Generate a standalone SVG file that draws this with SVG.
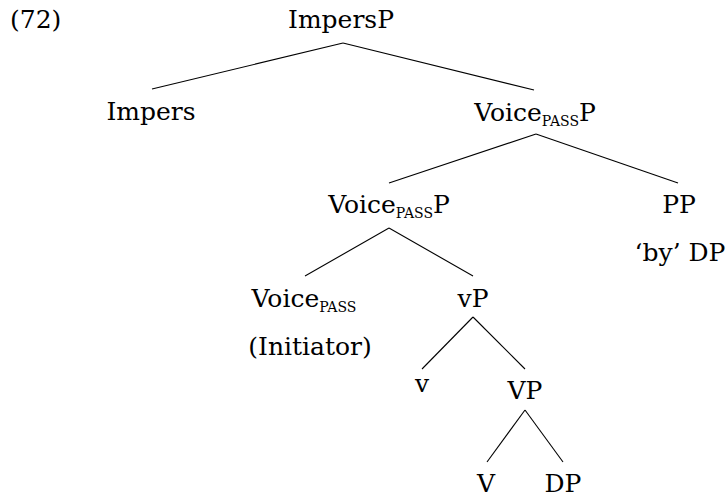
<svg xmlns="http://www.w3.org/2000/svg" width="728" height="497" viewBox="0 0 728 497">
<style>
text{font-family:'DejaVu Serif','Liberation Serif',serif;font-size:25px;fill:#000;}
.m{text-anchor:middle;}
.sub{font-size:14px;}
#edges line{stroke:#000;stroke-width:1.1;}
</style>
<rect width="728" height="497" fill="#fff"/>
<g id="label72"><text x="10" y="28">(72)</text></g>
<g id="edges">
<line x1="343" y1="43" x2="152" y2="89"/>
<line x1="343" y1="43" x2="534" y2="90"/>
<line x1="536" y1="134" x2="389" y2="183"/>
<line x1="536" y1="134" x2="678" y2="183"/>
<line x1="389" y1="228" x2="305" y2="276"/>
<line x1="389" y1="228" x2="473" y2="276"/>
<line x1="473" y1="317" x2="422" y2="369"/>
<line x1="473" y1="317" x2="525" y2="369"/>
<line x1="525" y1="410" x2="487" y2="462"/>
<line x1="525" y1="410" x2="563" y2="462"/>
</g>
<g id="n-impersP"><text class="m" x="341" y="28">ImpersP</text></g>
<g id="n-impers"><text class="m" x="151" y="120">Impers</text></g>
<g id="n-voicepassP1"><text class="m" x="535" y="121">Voice<tspan class="sub" dy="5">PASS</tspan><tspan dy="-5">P</tspan></text></g>
<g id="n-voicepassP2"><text class="m" x="389" y="213">Voice<tspan class="sub" dy="5">PASS</tspan><tspan dy="-5">P</tspan></text></g>
<g id="n-PP"><text class="m" x="679" y="213">PP</text></g>
<g id="n-byDP"><text class="m" x="680" y="261">‘by’ DP</text></g>
<g id="n-voicepass"><text class="m" x="304" y="307">Voice<tspan class="sub" dy="5">PASS</tspan></text></g>
<g id="n-initiator"><text class="m" x="310" y="355">(Initiator)</text></g>
<g id="n-vP"><text class="m" x="473" y="307">vP</text></g>
<g id="n-v"><text class="m" x="422" y="392">v</text></g>
<g id="n-VP"><text class="m" x="525" y="399">VP</text></g>
<g id="n-V"><text class="m" x="486" y="492">V</text></g>
<g id="n-DP"><text class="m" x="563" y="492">DP</text></g>
</svg>
